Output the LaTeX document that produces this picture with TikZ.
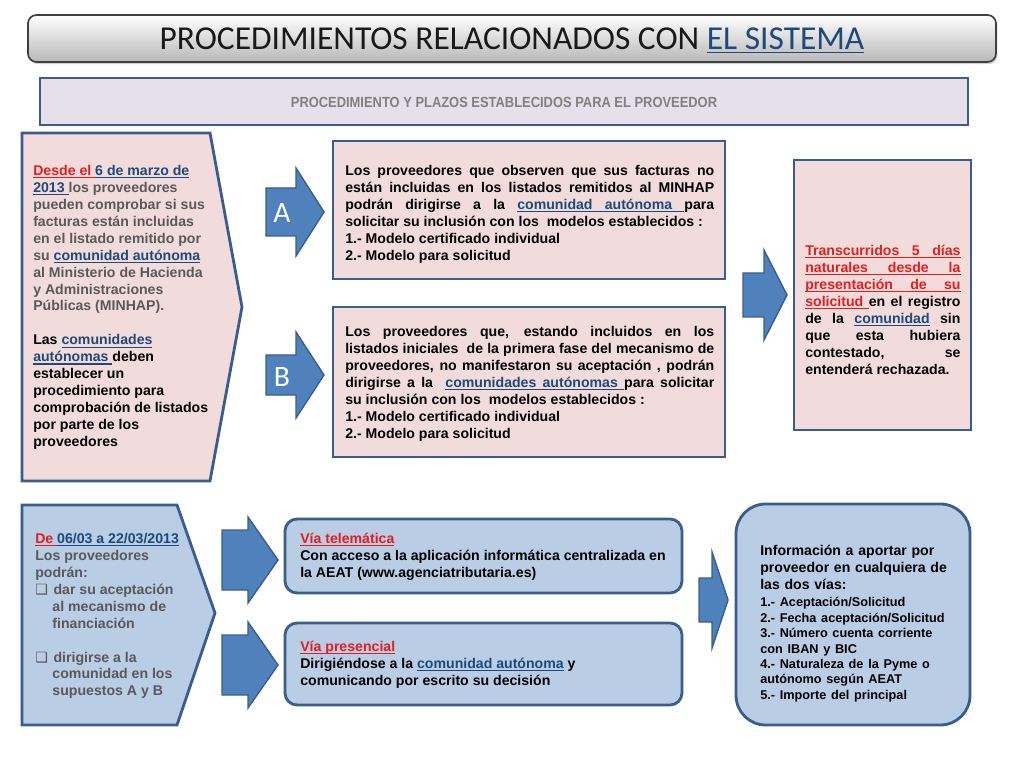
\documentclass[tikz,border=0pt]{standalone}
\usepackage{fontspec}
\setmainfont{Liberation Sans}
\newfontfamily\titlefont{Carlito}
\newfontfamily\narrowfont[FakeStretch=0.88]{Liberation Sans}
\newfontfamily\symfont{DejaVu Sans}
\usetikzlibrary{shadows}
\setlength{\parindent}{0pt}

\definecolor{boxpink}{HTML}{F2DCDB}
\definecolor{boxblue}{HTML}{B9CDE5}
\definecolor{edgeblue}{HTML}{3A5E8C}
\definecolor{arrowblue}{HTML}{4F81BD}
\definecolor{headlav}{HTML}{E6E0EC}
\definecolor{txtgray}{HTML}{595959}
\definecolor{headgray}{HTML}{808080}
\definecolor{txtred}{HTML}{E41E1E}
\definecolor{linkblue}{HTML}{1F497D}

% underlining word by word, spaces stay stretchable
\newcommand{\ulbox}[1]{\setbox0\hbox{#1}\rlap{\rule[-2pt]{\wd0}{0.8pt}}\box0}
\newcommand{\ulsp}{\leaders\hrule height -1.2pt depth 2pt
  \hskip\fontdimen2\font plus\fontdimen3\font minus\fontdimen4\font}
\def\ulloop#1 #2\ulend{\ulbox{#1}\ifx\relax#2\relax\else\ulsp\ulloop#2\ulend\fi}
\newcommand{\ulphrase}[1]{\ulloop#1 \ulend}
\newcommand{\redu}[1]{\textcolor{txtred}{\ulphrase{#1}}}
\newcommand{\blueu}[1]{\textcolor{linkblue}{\ulphrase{#1}}}
\newcommand{\redsp}{{\color{txtred}\ulsp}}
\newcommand{\bluesp}{{\color{linkblue}\ulsp}}
\newcommand{\chk}{{\symfont\char"2751}\hspace{4pt}}
% block arrow: x left, x head, x tip, y centre, shaft half, head half
\newcommand{\blockarrow}[6]{%
  \draw[blockarrow] (#1,#4-#5) -- (#2,#4-#5) -- (#2,#4-#6) -- (#3,#4)
    -- (#2,#4+#6) -- (#2,#4+#5) -- (#1,#4+#5) -- cycle;}

\begin{document}
\begin{tikzpicture}[
    x=0.7087pt, y=-0.7087pt,
    font=\fontsize{10}{12}\selectfont\bfseries,
    panel/.style={
        draw=edgeblue,
        line width=2pt
    },
    pinkbox/.style={
        panel,
        fill=boxpink
    },
    bluebox/.style={
        panel,
        fill=boxblue,
        rounded corners=8.5pt
    },
    txt/.style={
        inner sep=0pt,
        anchor=north west,
        align=left
    },
    jtxt/.style={
        inner sep=0pt,
        anchor=north west,
        align=justify
    },
    blockarrow/.style={
        fill=arrowblue,
        draw=edgeblue,
        line width=1pt,
        line join=miter
    },
    letter/.style={
        font=\titlefont\fontsize{21}{21}\selectfont,
        text=white
    }
]
\useasboundingbox (0,0) rectangle (1024,768);

% title bar
\draw[draw=black!75, line width=1.2pt, rounded corners=6pt,
      top color=white, bottom color=black!28,
      drop shadow={shadow xshift=1pt, shadow yshift=-1.5pt, opacity=0.35}]
    (28,15) rectangle (996,62);
\node[font=\titlefont\fontsize{23.7}{28}\selectfont, text=black!90, anchor=base]
    (title) at (512,50) {PROCEDIMIENTOS RELACIONADOS CON \textcolor{linkblue}{\ulphrase{EL SISTEMA}}};

% sub header
\draw[panel, fill=headlav,
      drop shadow={shadow xshift=1pt, shadow yshift=-1pt, opacity=0.25}]
    (40,78) rectangle (968,125);
\node[font=\narrowfont\fontsize{10.4}{12}\selectfont\bfseries, text=headgray]
    (subhead) at (504,102) {PROCEDIMIENTO Y PLAZOS ESTABLECIDOS PARA EL PROVEEDOR};

% top row
\draw[pinkbox] (22,133) -- (210,133) -- (242,307) -- (210,481) -- (22,481) -- cycle;
\node[txt, text=txtgray] (desde) at (33,165) {%
\redu{Desde el}\redsp\blueu{6 de marzo de}\\
\blueu{2013}\bluesp los proveedores\\
pueden comprobar si sus\\
facturas están incluidas\\
en el listado remitido por\\
su \blueu{comunidad autónoma}\\
al Ministerio de Hacienda\\
y Administraciones\\
Públicas (MINHAP).\\[12pt]
\textcolor{black}{Las \blueu{comunidades}}\\
\textcolor{black}{\blueu{autónomas}\bluesp deben}\\
\textcolor{black}{establecer un}\\
\textcolor{black}{procedimiento para}\\
\textcolor{black}{comprobación de listados}\\
\textcolor{black}{por parte de los}\\
\textcolor{black}{proveedores}};

\blockarrow{266}{296}{324}{212}{24}{44}
\node[letter] (arrA) at (282,213) {A};
\blockarrow{266}{296}{324}{375}{20}{43}
\node[letter] (arrB) at (282,377) {B};

\draw[pinkbox] (333,141) rectangle (725,279);
\node[jtxt, text width=261.5pt] (casoA) at (345,165) {%
Los proveedores que observen que sus facturas no\linebreak
están incluidas en los listados remitidos al MINHAP\linebreak
podrán dirigirse a la \blueu{comunidad autónoma}\bluesp para\linebreak
solicitar su inclusión con los~ modelos establecidos :\par
1.- Modelo certificado individual\par
2.- Modelo para solicitud\par};

\draw[pinkbox] (333,307) rectangle (725,457);
\node[jtxt, text width=261.5pt] (casoB) at (345,326) {%
Los proveedores que, estando incluidos en los\linebreak
listados iniciales~ de la primera fase del mecanismo de\linebreak
proveedores, no manifestaron su aceptación , podrán\linebreak
dirigirse a la~ \blueu{comunidades autónomas}\bluesp para solicitar\linebreak
su inclusión con los~ modelos establecidos :\par
1.- Modelo certificado individual\par
2.- Modelo para solicitud\par};

\blockarrow{743}{764}{787}{295}{22}{45}

\draw[pinkbox] (794,160) rectangle (971,430);
\node[jtxt, text width=110pt] (plazo) at (805,245) {%
\redu{Transcurridos 5 días}\linebreak
\redu{naturales desde la}\linebreak
\redu{presentación de su}\linebreak
\redu{solicitud}\redsp en el registro\linebreak
de la \blueu{comunidad} sin\linebreak
que esta hubiera\linebreak
contestado, se\linebreak
entenderá rechazada.\par};

% bottom row
\draw[panel, fill=boxblue] (22,505) -- (177,505) -- (215,613) -- (177,725) -- (22,725) -- cycle;
\node[txt, text=txtgray] (periodo) at (35,533) {%
\redu{De}\redsp\blueu{06/03 a 22/03/2013}\\
Los proveedores\\
podrán:\\
\chk dar su aceptación\\
\hspace*{12.2pt}al mecanismo de\\
\hspace*{12.2pt}financiación\\[12pt]
\chk dirigirse a la\\
\hspace*{12.2pt}comunidad en los\\
\hspace*{12.2pt}supuestos A y B};

\blockarrow{222}{248}{278}{560}{30}{43}
\blockarrow{222}{248}{278}{665}{30}{43}

\draw[bluebox] (285,519) rectangle (682,593);
\node[txt] (telematica) at (300,533) {%
\redu{Vía telemática}\\
Con acceso a la aplicación informática centralizada en\\
la AEAT (www.agenciatributaria.es)};

\draw[bluebox] (285,623) rectangle (682,705);
\node[txt] (presencial) at (300,641) {%
\redu{Vía presencial}\\
Dirigiéndose a la \blueu{comunidad autónoma} y\\
comunicando por escrito su decisión};

\blockarrow{699}{712}{728}{600}{22}{48}

\draw[bluebox, rounded corners=21pt] (736,504) rectangle (970,725);
\node[txt, text width=150pt] (aportar) at (760,545) {%
Información a aportar por\\
proveedor en cualquiera de\\
las dos vías:\par\vspace{1.5pt}
\fontsize{9}{10.9}\selectfont
1.- Aceptación/Solicitud\\
2.- Fecha aceptación/Solicitud\\
3.- Número cuenta corriente\\
con IBAN y BIC\\
4.- Naturaleza de la Pyme o\\
autónomo según AEAT\\
5.- Importe del principal\par};

\end{tikzpicture}
\end{document}
